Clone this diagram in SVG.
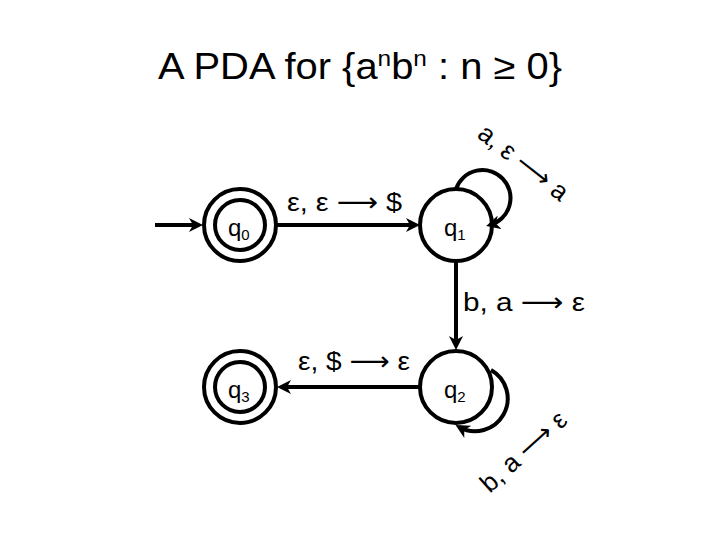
<svg xmlns="http://www.w3.org/2000/svg" width="720" height="540" viewBox="0 0 720 540">
<style>
.st{fill:none;stroke:#000;stroke-width:4}
.edge{fill:none;stroke:#000;stroke-width:4}
.t{font-family:"Liberation Sans","DejaVu Sans",sans-serif;fill:#000}
.lbl{font-size:26px}
.nl{font-size:24px}
.sub{font-size:15px}
</style>
<defs>
<marker id="ah" viewBox="0 0 14 14" markerWidth="14" markerHeight="14" refX="10" refY="7" orient="auto" markerUnits="userSpaceOnUse">
<path d="M0,0 L14,7 L0,14 L4,7 z" fill="#000"/>
</marker>
</defs>
<rect width="720" height="540" fill="#fff"/>
<text class="t" x="158" y="79" font-size="36" textLength="404" lengthAdjust="spacingAndGlyphs">A PDA for {a<tspan font-size="22" dy="-13">n</tspan><tspan dy="13">b</tspan><tspan font-size="22" dy="-13">n</tspan><tspan dy="13"> : n ≥ 0}</tspan></text>
<g id="connectors">
<line class="edge" x1="155" y1="225" x2="199" y2="225" marker-end="url(#ah)"/>
<line class="edge" x1="277" y1="225" x2="416" y2="225" marker-end="url(#ah)"/>
<path class="edge" d="M456 189 A28 28 0 1 1 490 225" marker-end="url(#ah)"/>
<line class="edge" x1="456" y1="262" x2="456" y2="346" marker-end="url(#ah)"/>
<path class="edge" d="M491 370 A28 28 0 1 1 459 427" marker-end="url(#ah)"/>
<line class="edge" x1="420" y1="387" x2="281" y2="387" marker-end="url(#ah)"/>
<text class="t lbl" x="287" y="211" textLength="115" lengthAdjust="spacingAndGlyphs">ε, ε ⟶ $</text>
<text class="t lbl" x="463" y="311" textLength="122" lengthAdjust="spacingAndGlyphs">b, a ⟶ ε</text>
<text class="t lbl" x="298" y="370" textLength="112" lengthAdjust="spacingAndGlyphs">ε, $ ⟶ ε</text>
<text class="t lbl" transform="translate(523,163) rotate(38)" x="0" y="8" text-anchor="middle" font-size="26">a, ε ⟶ a</text>
<text class="t lbl" transform="translate(524,452) rotate(-42)" x="0" y="8" text-anchor="middle" font-size="26">b, a ⟶ ε</text>
</g>
<g id="q0">
<circle class="st" cx="240" cy="225" r="36"/>
<circle class="st" cx="240" cy="225" r="25"/>
<text class="t nl" x="228" y="236">q<tspan class="sub" dy="4">0</tspan></text>
</g>
<g id="q1">
<circle class="st" cx="456" cy="225" r="36"/>
<text class="t nl" x="444" y="236">q<tspan class="sub" dy="4">1</tspan></text>
</g>
<g id="q2">
<circle class="st" cx="456" cy="387" r="36"/>
<text class="t nl" x="444" y="398">q<tspan class="sub" dy="4">2</tspan></text>
</g>
<g id="q3">
<circle class="st" cx="240" cy="387" r="36"/>
<circle class="st" cx="240" cy="387" r="25"/>
<text class="t nl" x="228" y="398">q<tspan class="sub" dy="4">3</tspan></text>
</g>
</svg>
